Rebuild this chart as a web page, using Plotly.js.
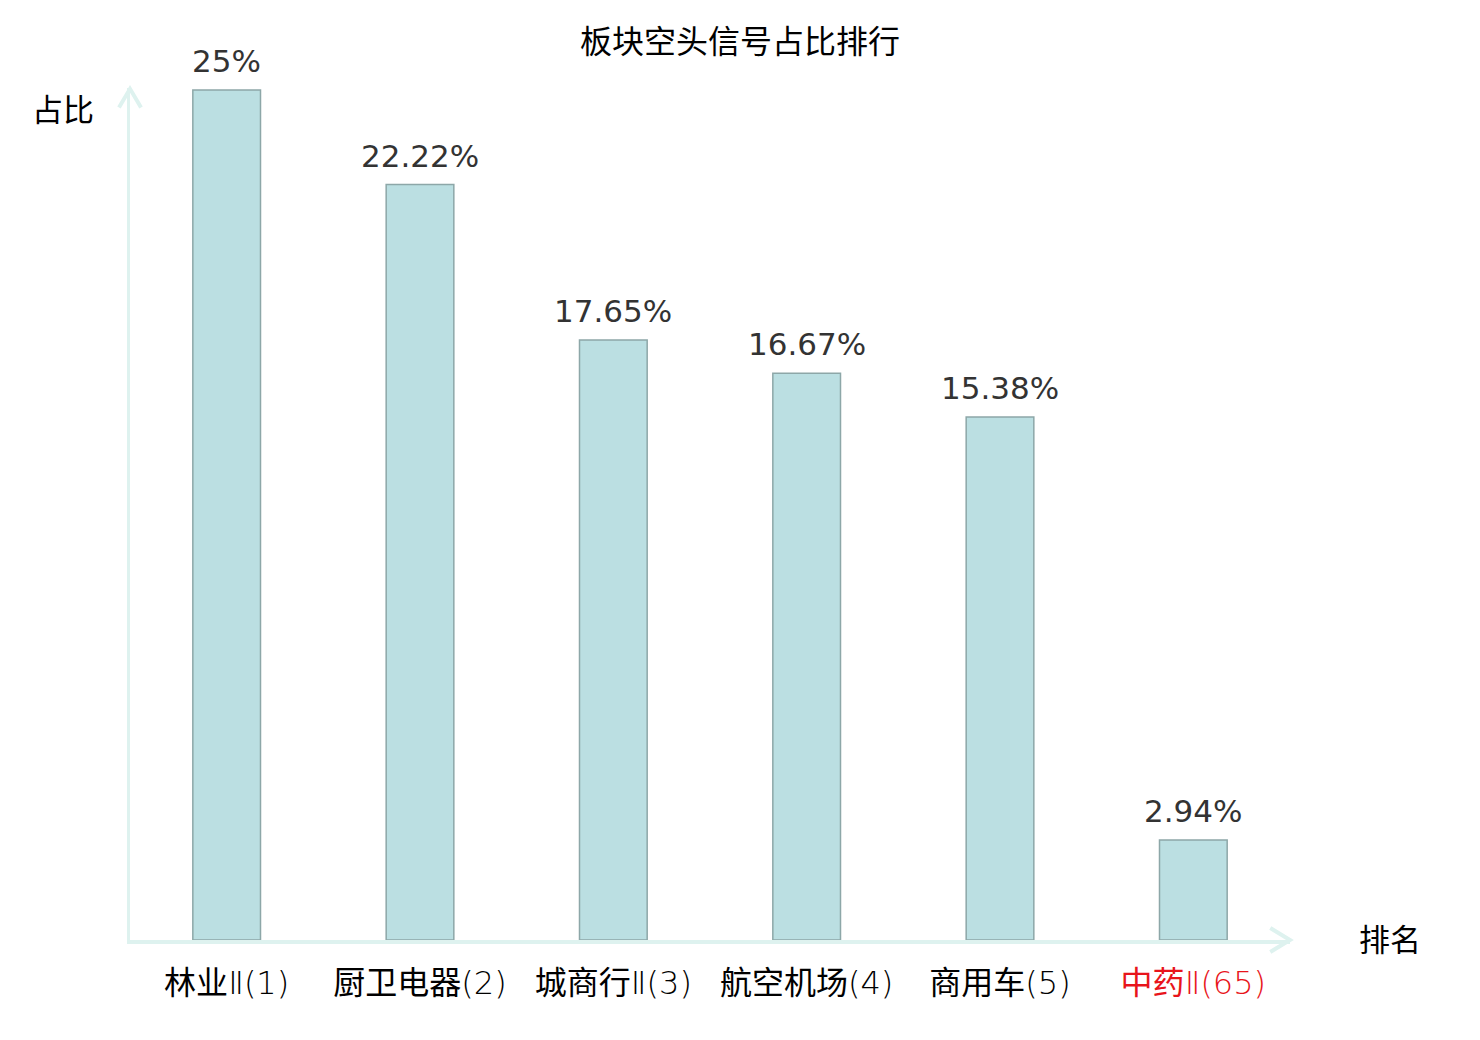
<!DOCTYPE html>
<html>
<head>
<meta charset="utf-8">
<script src="https://cdn.plot.ly/plotly-3.0.1.min.js"></script>
<style>
  body { margin: 0; background: #fff; }
  #chart { width: 1480px; height: 1040px; }
</style>
</head>
<body>
<div id="chart"></div>
<script>
// 板块名称 + 排名
const sectors = ["林业Ⅱ", "厨卫电器", "城商行Ⅱ", "航空机场", "商用车", "中药Ⅱ"];
const ranks = [1, 2, 3, 4, 5, 65];
const ratios = [25, 22.22, 17.65, 16.67, 15.38, 2.94];
const ratioLabels = ["25%", "22.22%", "17.65%", "16.67%", "15.38%", "2.94%"];
const highlight = [false, false, false, false, false, true];

const FONT = "DejaVu Sans, Noto Sans CJK SC, sans-serif";
const AXIS_COLOR = "#def2ef";

const xs = sectors.map((_, i) => i);
// 汉字用常规字重, 数字和括号用细体
const tickText = sectors.map((s, i) => {
  const name = s.replace(/[\u4e00-\u9fff]+/g, (m) => '<span style="font-weight:400">' + m + "</span>");
  const t = name + "(" + ranks[i] + ")";
  return highlight[i] ? '<span style="color:#e8141b">' + t + "</span>" : t;
});

const bars = {
  type: "bar",
  x: xs,
  y: ratios,
  width: 0.35,
  marker: { color: "#bbdfe2", line: { color: "#8da7a8", width: 1.5 } },
  hoverinfo: "none",
};

// 柱顶数值标签
const valueNotes = xs.map((x, i) => ({
  x: x, y: ratios[i], xref: "x", yref: "y",
  text: ratioLabels[i], showarrow: false,
  yanchor: "bottom", yshift: 9,
  font: { family: FONT, size: 31, color: "#333333" },
}));

const layout = {
  width: 1480,
  height: 1040,
  margin: { l: 130, r: 190, t: 88, b: 100 },
  paper_bgcolor: "#ffffff",
  plot_bgcolor: "#ffffff",
  showlegend: false,
  font: { family: FONT, size: 30, color: "#000000" },
  title: {
    text: "板块空头信号占比排行",
    x: 0.5, xanchor: "center",
    y: 1 - 42 / 1040, yanchor: "middle", yref: "container",
    font: { family: FONT, size: 32, color: "#000000" },
  },
  xaxis: {
    range: [-0.5, 5.5],
    tickmode: "array",
    tickvals: xs,
    ticktext: tickText,
    ticks: "outside", ticklen: 12, tickcolor: "rgba(0,0,0,0)",
    showline: true, linecolor: AXIS_COLOR, linewidth: 3.5,
    showgrid: false, zeroline: false, fixedrange: true,
    tickfont: { family: FONT, size: 32, weight: 200, color: "#000000" },
  },
  yaxis: {
    range: [0, 25.06],
    showticklabels: false, ticks: "",
    showline: true, linecolor: AXIS_COLOR, linewidth: 3.5,
    showgrid: false, zeroline: false, fixedrange: true,
  },
  shapes: [
    // y 轴箭头
    { type: "path", xref: "paper", yref: "paper",
      path: "M -0.0095,0.977 L 0,0.999 L 0.0095,0.977",
      line: { color: AXIS_COLOR, width: 4 } },
    // x 轴箭头
    { type: "path", xref: "paper", yref: "paper",
      path: "M 0.983,0.0141 L 1,0 L 0.983,-0.0141",
      line: { color: AXIS_COLOR, width: 4 } },
  ],
  annotations: valueNotes.concat([
    { xref: "paper", yref: "paper", x: -67 / 1160, y: (940 - 110) / 852,
      text: "占比", showarrow: false, xanchor: "center", yanchor: "middle",
      font: { family: FONT, size: 31, color: "#000000" } },
    { xref: "paper", yref: "paper", x: (1390 - 130) / 1160, y: 0,
      text: "排名", showarrow: false, xanchor: "center", yanchor: "middle",
      font: { family: FONT, size: 31, color: "#000000" } },
  ]),
};

Plotly.newPlot("chart", [bars], layout, { displayModeBar: false, staticPlot: true });
</script>
</body>
</html>
